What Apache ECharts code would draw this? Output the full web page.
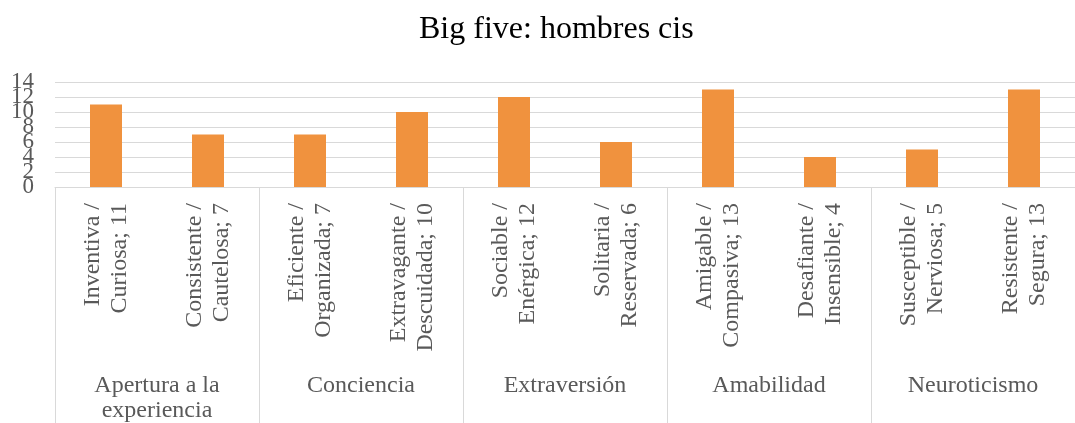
<!DOCTYPE html>
<html>
<head>
<meta charset="utf-8">
<script src="https://cdn.jsdelivr.net/npm/echarts@6/dist/echarts.min.js"></script>
<style>
html,body{margin:0;padding:0;background:#fff;}
#chart{width:1075px;height:423px;}
</style>
</head>
<body>
<div id="chart"></div>
<script>
var titleText = 'Big five: hombres cis';
var categories = [
  'Inventiva /\nCuriosa', 'Consistente /\nCautelosa',
  'Eficiente /\nOrganizada', 'Extravagante /\nDescuidada',
  'Sociable /\nEnérgica', 'Solitaria /\nReservada',
  'Amigable /\nCompasiva', 'Desafiante /\nInsensible',
  'Susceptible /\nNerviosa', 'Resistente /\nSegura'
];
var values = [11, 7, 7, 10, 12, 6, 13, 4, 5, 13];
var groups = ['Apertura a la\nexperiencia', 'Conciencia', 'Extraversión', 'Amabilidad', 'Neuroticismo'];
var yTicks = { min: 0, max: 14, interval: 2 };

var FONT = "'Liberation Serif', 'Times New Roman', serif";
var GRAY = '#595959';
var LINE = '#d9d9d9';

// Two overlaid value axes with the same scale: one prints 0,4,8,12, the other 2,6,10,14,
// so that all (overlapping, as in the reference) tick labels are drawn.
function yAxisDef(showEvenSteps, withGrid) {
  return {
    type: 'value',
    min: yTicks.min,
    max: yTicks.max,
    interval: yTicks.interval,
    position: 'left',
    axisLine: { show: false },
    axisTick: { show: false },
    splitLine: { show: withGrid, lineStyle: { color: LINE, width: 1 } },
    axisLabel: {
      fontFamily: FONT, fontSize: 23, color: GRAY, margin: 21,
      hideOverlap: false,
      showMinLabel: showEvenSteps,
      showMaxLabel: !showEvenSteps,
      formatter: function (v) {
        var step = Math.round((v - yTicks.min) / yTicks.interval);
        return ((step % 2 === 0) === showEvenSteps) ? String(v) : '';
      }
    }
  };
}

var chart = echarts.init(document.getElementById('chart'), null, { renderer: 'canvas' });
chart.setOption({
  animation: false,
  backgroundColor: '#ffffff',
  title: {
    text: titleText,
    left: 414,
    top: 9,
    textStyle: { fontFamily: FONT, fontSize: 32, fontWeight: 'normal', color: '#000' }
  },
  grid: { left: 55, top: 82, width: 1026, height: 105, containLabel: false },
  xAxis: [
    {
      type: 'category',
      data: categories,
      position: 'bottom',
      axisLine: { show: true, lineStyle: { color: LINE, width: 1 } },
      axisTick: { show: false },
      axisLabel: {
        interval: 0,
        rotate: 90,
        margin: 16,
        hideOverlap: false,
        fontFamily: FONT,
        fontSize: 24,
        lineHeight: 27,
        color: GRAY,
        formatter: function (v, i) { return v + '; ' + values[i]; }
      }
    },
    {
      type: 'category',
      data: groups,
      position: 'bottom',
      gridIndex: 0,
      axisLine: { show: false },
      axisTick: { show: true, interval: 0, length: 240, lineStyle: { color: LINE, width: 1 } },
      axisLabel: {
        interval: 0,
        margin: 186,
        hideOverlap: false,
        verticalAlign: 'top',
        fontFamily: FONT,
        fontSize: 24,
        lineHeight: 25,
        color: GRAY
      }
    }
  ],
  yAxis: [yAxisDef(true, true), yAxisDef(false, false)],
  series: [{
    type: 'bar',
    xAxisIndex: 0,
    yAxisIndex: 0,
    data: values,
    barWidth: 32,
    itemStyle: { color: '#F0923E' }
  }]
});
</script>
</body>
</html>
